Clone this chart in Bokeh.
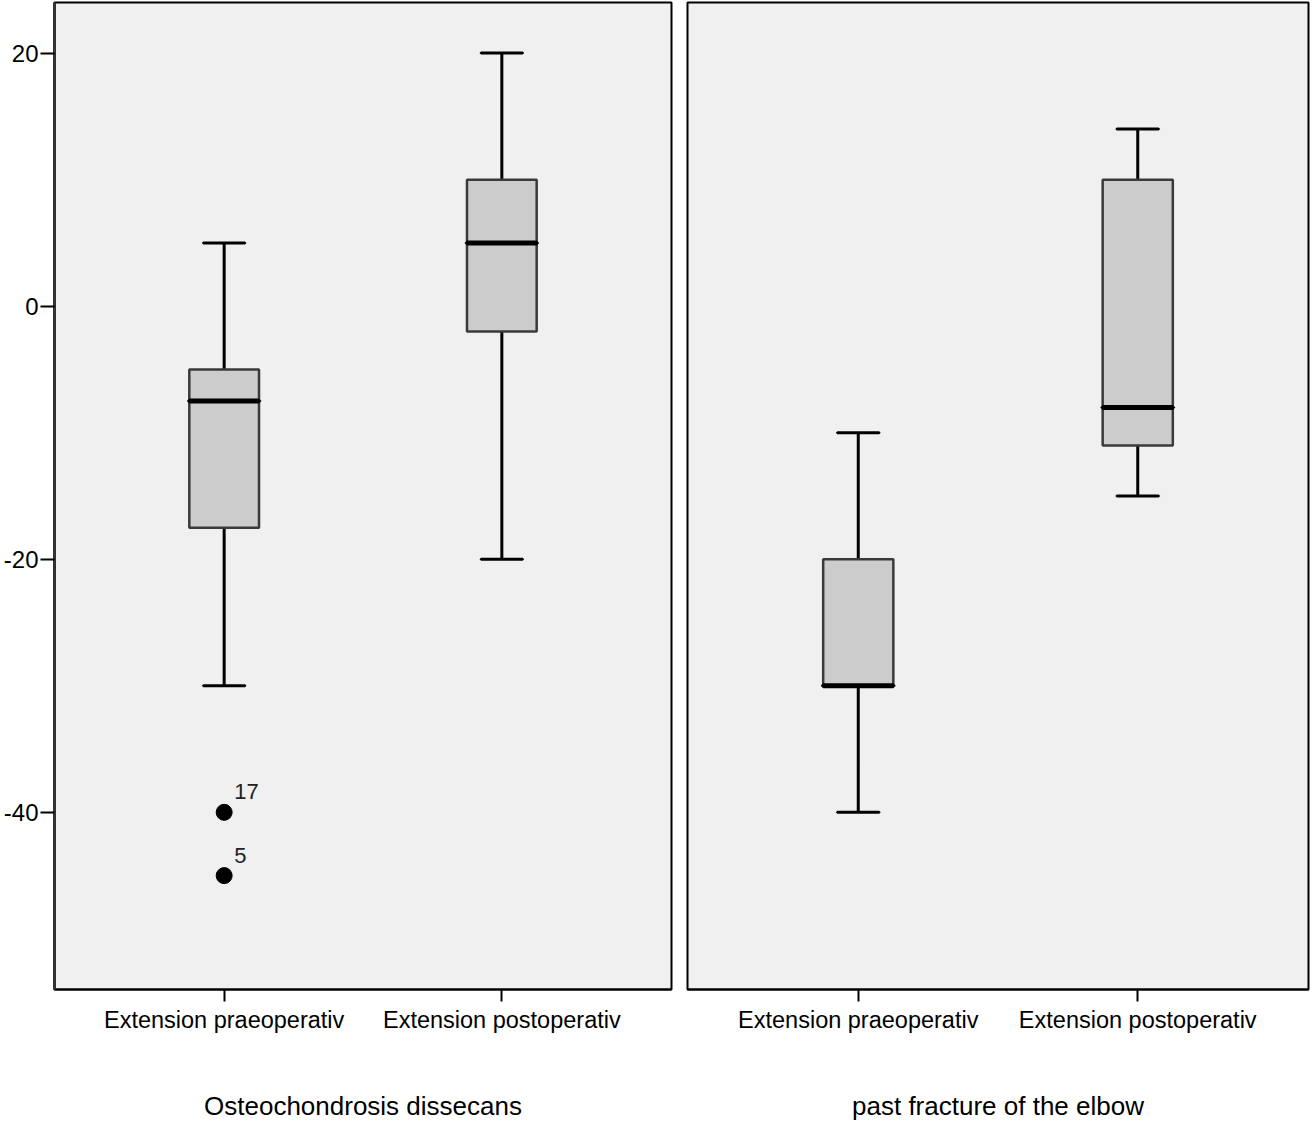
from bokeh.plotting import figure
from bokeh.layouts import row
from bokeh.models import FactorRange, Range1d, FixedTicker, ColumnDataSource
from bokeh.embed import file_html
from bokeh.resources import INLINE

# ---- data ----
categories = ["Extension praeoperativ", "Extension postoperativ"]
groups = ["Osteochondrosis dissecans", "past fracture of the elbow"]

# per group: [praeoperativ, postoperativ]
ocd_upper = [5, 20]
ocd_q3 = [-5, 10]
ocd_median = [-7.5, 5]
ocd_q1 = [-17.5, -2]
ocd_lower = [-30, -20]
ocd_outlier_values = [-40, -45]
ocd_outlier_labels = ["17", "5"]
ocd_outlier_cat = ["Extension praeoperativ", "Extension praeoperativ"]

frac_upper = [-10, 14]
frac_q3 = [-20, 10]
frac_median = [-30, -8]
frac_q1 = [-30, -11]
frac_lower = [-40, -15]

y_ticks = [20, 0, -20, -40]
y_tick_labels = {20: "20", 0: "0", -20: "-20", -40: "-40"}

FONT = "Liberation Sans"
BG = "#f0f0f0"
BOX_FILL = "#cccccc"


def make_panel(title, upper, q3, med, q1, lower, show_y, width, bl, br,
               out_vals=None, out_labels=None, out_cat=None):
    p = figure(width=width, height=1125, output_backend="svg", toolbar_location=None,
               x_range=FactorRange(factors=categories, range_padding=0.111,
                                   range_padding_units="absolute"),
               y_range=Range1d(-54, 24),
               min_border_left=bl, min_border_right=br, min_border_top=2,
               min_border_bottom=136)
    p.background_fill_color = BG
    p.border_fill_color = "white"
    p.outline_line_color = "black"
    p.outline_line_width = 2
    p.xgrid.visible = False
    p.ygrid.visible = False

    src = ColumnDataSource(dict(x=categories, upper=upper, q3=q3, med=med, q1=q1, lower=lower))
    # whiskers
    p.segment(x0="x", y0="q3", x1="x", y1="upper", source=src, line_color="black", line_width=3)
    p.segment(x0="x", y0="q1", x1="x", y1="lower", source=src, line_color="black", line_width=3)
    # caps
    p.rect(x="x", y="upper", width=0.15, height=0.0001, source=src,
           line_color="black", line_width=3, fill_alpha=0)
    p.rect(x="x", y="lower", width=0.15, height=0.0001, source=src,
           line_color="black", line_width=3, fill_alpha=0)
    # boxes
    p.vbar(x="x", top="q3", bottom="q1", width=0.251, source=src,
           fill_color=BOX_FILL, line_color="#3a3a3a", line_width=2.5)
    # medians
    p.rect(x="x", y="med", width=0.251, height=0.0001, source=src,
           line_color="black", line_width=5, fill_alpha=0)

    if out_vals:
        osrc = ColumnDataSource(dict(x=out_cat, y=out_vals, label=out_labels))
        p.scatter(x="x", y="y", source=osrc, size=16, fill_color="black", line_color="black")
        p.text(x="x", y="y", text="label", source=osrc, x_offset=10, y_offset=-13,
               text_font_size="22px", text_color="#222222", text_baseline="bottom",
               text_font={"value": FONT})

    xa = p.xaxis[0]
    xa.axis_label = title
    xa.axis_label_text_font = FONT
    xa.axis_label_text_font_size = "26px"
    xa.axis_label_text_font_style = "normal"
    xa.axis_label_text_color = "black"
    xa.axis_label_standoff = 55
    xa.major_label_text_font = FONT
    xa.major_label_text_font_size = "23.5px"
    xa.major_label_text_color = "black"
    xa.major_label_standoff = 5
    xa.major_tick_out = 12
    xa.major_tick_in = 0
    xa.major_tick_line_width = 2
    xa.major_tick_line_color = "black"
    xa.axis_line_color = "black"
    xa.axis_line_width = 2

    ya = p.yaxis[0]
    if show_y:
        ya.ticker = FixedTicker(ticks=y_ticks)
        ya.major_label_overrides = y_tick_labels
        ya.major_label_text_font = FONT
        ya.major_label_text_font_size = "24px"
        ya.major_label_text_color = "black"
        ya.major_label_standoff = 2
        ya.major_tick_out = 14
        ya.major_tick_in = 0
        ya.major_tick_line_width = 2
        ya.major_tick_line_color = "black"
        ya.minor_tick_line_color = None
        ya.axis_line_color = "#333333"
        ya.axis_line_width = 3
    else:
        ya.visible = False
    return p


p1 = make_panel(groups[0], ocd_upper, ocd_q3, ocd_median, ocd_q1, ocd_lower, True,
                width=679, bl=52, br=8,
                out_vals=ocd_outlier_values, out_labels=ocd_outlier_labels,
                out_cat=ocd_outlier_cat)
p2 = make_panel(groups[1], frac_upper, frac_q3, frac_median, frac_q1, frac_lower, False,
                width=631, bl=8, br=2)

layout = row(p1, p2)
open("out.html", "w").write(file_html(layout, INLINE))
